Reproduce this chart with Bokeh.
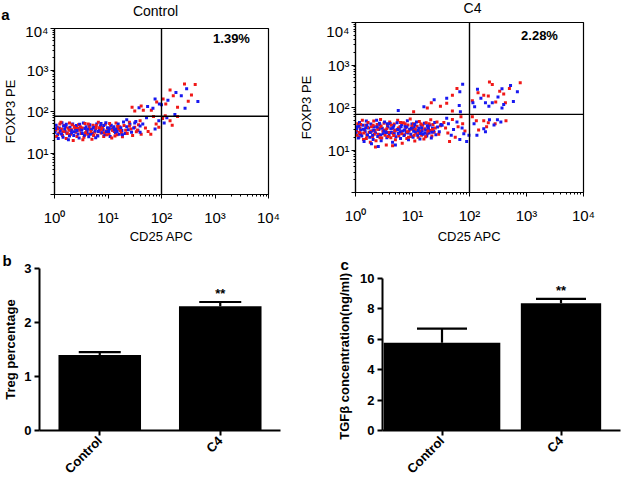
from math import pi
from bokeh.plotting import figure
from bokeh.layouts import column, row
from bokeh.models import (ColumnDataSource, FixedTicker, Span, Label, Whisker,
                          TeeHead, FactorRange, Range1d, Title)
from bokeh.core.properties import value
from bokeh.embed import file_html
from bokeh.resources import INLINE

FONT = "Liberation Sans"
RED = "#f01818"
BLUE = "#1818f0"

# ---------------- data ----------------
decade_ticks = [1, 10, 100, 1000, 10000]
x_decade_labels = ["10⁰", "10¹", "10²", "10³", "10⁴"]
y_decade_labels = ["", "10¹", "10²", "10³", "10⁴"]
minor_mantissas = [2, 3, 4, 5, 6, 7, 8, 9]

ctrl_title = "Control"
ctrl_gate_x = 100
ctrl_gate_y = 77
ctrl_pct = "1.39%"

c4_title = "C4"
c4_gate_x = 100
c4_gate_y = 69
c4_pct = "2.28%"

# events, as (log10 CD25 APC, log10 FOXP3 PE)
ctrl_red = [
    (0.02, 1.55), (0.05, 1.62), (0.08, 1.48), (0.10, 1.70), (0.13, 1.58), (0.15, 1.42), (0.18, 1.66),
    (0.20, 1.52), (0.22, 1.35), (0.25, 1.60), (0.28, 1.72), (0.30, 1.45), (0.32, 1.56), (0.35, 1.30),
    (0.37, 1.64), (0.40, 1.50), (0.42, 1.40), (0.45, 1.68), (0.47, 1.55), (0.50, 1.47), (0.52, 1.60),
    (0.55, 1.38), (0.57, 1.71), (0.60, 1.53), (0.62, 1.45), (0.65, 1.63), (0.67, 1.57), (0.70, 1.33),
    (0.72, 1.67), (0.75, 1.50), (0.77, 1.59), (0.80, 1.43), (0.82, 1.74), (0.85, 1.55), (0.87, 1.48),
    (0.90, 1.62), (0.92, 1.40), (0.95, 1.69), (0.97, 1.53), (1.00, 1.58), (1.02, 1.46), (1.05, 1.65),
    (1.07, 1.36), (1.10, 1.60), (1.12, 1.52), (1.15, 1.72), (1.17, 1.44), (1.20, 1.57), (1.22, 1.63),
    (1.25, 1.49), (1.27, 1.39), (1.30, 1.66), (1.33, 1.55), (1.36, 1.47), (1.40, 1.74), (1.43, 1.58),
    (1.46, 1.42), (1.50, 1.62), (1.53, 1.51), (1.57, 1.68), (1.62, 1.45), (0.04, 1.40), (0.12, 1.74),
    (0.24, 1.47), (0.33, 1.68), (0.43, 1.59), (0.53, 1.32), (0.63, 1.70), (0.73, 1.42), (0.83, 1.61),
    (0.93, 1.49), (1.03, 1.71), (1.13, 1.41), (1.23, 1.54), (0.06, 1.58), (0.16, 1.51), (0.27, 1.55),
    (0.38, 1.61), (0.48, 1.63), (0.58, 1.49), (0.68, 1.52), (0.78, 1.66), (0.88, 1.57), (0.98, 1.44),
    (1.08, 1.55), (1.18, 1.64),
    (1.70, 1.60), (1.75, 1.52), (1.80, 1.45), (1.90, 1.70), (1.60, 1.78), (1.55, 1.55), (1.85, 1.88),
    (1.40, 1.65), (1.95, 1.62),
    (1.50, 2.01), (1.66, 2.03), (1.81, 2.03), (1.91, 2.23), (1.62, 2.13), (1.45, 2.10),
    (2.07, 1.90), (2.16, 1.78), (2.20, 1.67), (2.02, 1.83), (2.30, 1.88),
    (2.16, 2.52), (2.43, 2.66), (2.63, 2.65), (2.22, 2.38), (2.56, 2.40), (2.50, 2.25), (2.08, 2.18),
    (2.30, 2.10), (2.03, 2.30),
]
ctrl_blue = [
    (0.01, 1.50), (0.03, 1.67), (0.06, 1.44), (0.09, 1.60), (0.11, 1.53), (0.14, 1.73), (0.16, 1.38),
    (0.19, 1.57), (0.21, 1.64), (0.23, 1.48), (0.26, 1.32), (0.29, 1.62), (0.31, 1.54), (0.34, 1.70),
    (0.36, 1.42), (0.39, 1.58), (0.41, 1.66), (0.44, 1.46), (0.46, 1.36), (0.49, 1.61), (0.51, 1.55),
    (0.54, 1.72), (0.56, 1.43), (0.59, 1.63), (0.61, 1.50), (0.64, 1.39), (0.66, 1.68), (0.69, 1.56),
    (0.71, 1.47), (0.74, 1.62), (0.76, 1.53), (0.79, 1.70), (0.81, 1.41), (0.84, 1.59), (0.86, 1.65),
    (0.89, 1.49), (0.91, 1.56), (0.94, 1.44), (0.96, 1.73), (0.99, 1.61), (1.01, 1.52), (1.04, 1.40),
    (1.06, 1.67), (1.09, 1.55), (1.11, 1.63), (1.14, 1.48), (1.16, 1.58), (1.19, 1.70), (1.21, 1.45),
    (1.24, 1.61), (1.26, 1.54), (1.29, 1.75), (1.32, 1.47), (1.35, 1.63), (1.38, 1.56), (1.41, 1.69),
    (1.44, 1.50), (1.48, 1.60), (1.52, 1.76), (1.56, 1.55), (1.60, 1.65), (0.07, 1.35), (0.17, 1.65),
    (0.28, 1.41), (0.37, 1.51), (0.47, 1.69), (0.57, 1.59), (0.67, 1.45), (0.77, 1.37), (0.87, 1.71),
    (0.97, 1.51), (1.07, 1.58), (1.17, 1.52), (1.27, 1.44), (0.02, 1.59), (0.13, 1.46), (0.22, 1.69),
    (0.32, 1.49), (0.42, 1.54), (0.52, 1.47), (0.62, 1.57), (0.72, 1.60), (0.82, 1.52), (0.92, 1.66),
    (1.02, 1.59), (1.12, 1.56),
    (1.65, 1.70), (1.72, 1.85), (1.50, 1.72), (1.88, 1.58), (1.35, 1.80), (1.95, 1.78), (1.60, 1.50),
    (1.58, 2.09), (1.88, 2.30), (1.74, 2.12), (1.96, 2.18), (1.84, 2.08),
    (2.10, 1.85), (2.25, 1.93), (2.05, 1.72),
    (2.27, 2.46), (2.47, 2.55), (2.37, 2.38), (2.68, 2.24), (2.44, 2.08), (2.12, 2.27), (2.00, 2.16),
]

c4_red = [
    (0.02, 1.45), (0.04, 1.62), (0.06, 1.30), (0.08, 1.52), (0.10, 1.38), (0.12, 1.70), (0.14, 1.25),
    (0.16, 1.48), (0.18, 1.58), (0.20, 1.34), (0.22, 1.65), (0.24, 1.42), (0.26, 1.18), (0.28, 1.55),
    (0.30, 1.31), (0.32, 1.68), (0.34, 1.46), (0.36, 1.22), (0.38, 1.60), (0.40, 1.37), (0.42, 1.51),
    (0.44, 1.72), (0.46, 1.28), (0.48, 1.44), (0.50, 1.63), (0.52, 1.35), (0.54, 1.12), (0.56, 1.57),
    (0.58, 1.41), (0.60, 1.66), (0.62, 1.29), (0.64, 1.50), (0.66, 1.39), (0.68, 1.61), (0.70, 1.24),
    (0.72, 1.47), (0.74, 1.70), (0.76, 1.33), (0.78, 1.55), (0.80, 1.43), (0.82, 1.16), (0.84, 1.64),
    (0.86, 1.36), (0.88, 1.52), (0.90, 1.27), (0.92, 1.59), (0.94, 1.45), (0.96, 1.73), (0.98, 1.32),
    (1.00, 1.49), (1.02, 1.62), (1.04, 1.21), (1.06, 1.40), (1.08, 1.56), (1.10, 1.30), (1.12, 1.67),
    (1.14, 1.44), (1.16, 1.35), (1.18, 1.58), (1.20, 1.26), (1.22, 1.50), (1.24, 1.64), (1.26, 1.38),
    (1.28, 1.54), (1.30, 1.46), (1.32, 1.71), (1.34, 1.33), (1.36, 1.60), (1.38, 1.42), (1.40, 1.52),
    (1.43, 1.66), (1.46, 1.37), (1.49, 1.57), (0.03, 1.35), (0.09, 1.60), (0.15, 1.40), (0.21, 1.53),
    (0.27, 1.44), (0.33, 1.37), (0.39, 1.49), (0.45, 1.56), (0.51, 1.47), (0.57, 1.32), (0.63, 1.58),
    (0.69, 1.45), (0.75, 1.52), (0.81, 1.38), (0.87, 1.62), (0.93, 1.30), (0.99, 1.56), (1.05, 1.48),
    (1.11, 1.40), (1.17, 1.50), (1.23, 1.31), (1.29, 1.62), (1.35, 1.48), (0.07, 1.41), (0.19, 1.27),
    (0.31, 1.58), (0.43, 1.29), (0.55, 1.50), (0.67, 1.34), (0.79, 1.65), (0.91, 1.43), (1.03, 1.35),
    (1.15, 1.61), (1.27, 1.45), (0.35, 1.07), (0.65, 1.10),
    (1.55, 1.65), (1.62, 1.40), (1.70, 1.72), (1.75, 1.30), (1.80, 1.55), (1.88, 1.62), (1.92, 1.45),
    (1.65, 1.20), (1.85, 1.78), (1.58, 1.52),
    (1.70, 2.29), (1.33, 2.11), (1.49, 2.03), (1.70, 1.92), (1.26, 1.99), (1.02, 1.90), (1.78, 2.45),
    (1.60, 2.10),
    (2.12, 1.69), (2.25, 1.69), (2.33, 1.64), (2.45, 1.62), (2.64, 1.69), (2.16, 1.47), (2.30, 1.55),
    (2.05, 1.78),
    (2.89, 2.58), (2.40, 2.54), (2.53, 2.38), (2.60, 2.32), (2.25, 2.29), (2.33, 2.27), (2.05, 2.16),
    (2.46, 2.13), (2.63, 2.11), (2.35, 2.60), (2.70, 2.45), (2.15, 2.35),
]
c4_blue = [
    (0.01, 1.40), (0.03, 1.55), (0.05, 1.28), (0.07, 1.65), (0.09, 1.47), (0.11, 1.33), (0.13, 1.58),
    (0.15, 1.20), (0.17, 1.43), (0.19, 1.68), (0.21, 1.36), (0.23, 1.52), (0.25, 1.30), (0.27, 1.61),
    (0.29, 1.45), (0.31, 1.25), (0.33, 1.55), (0.35, 1.40), (0.37, 1.70), (0.39, 1.32), (0.41, 1.48),
    (0.43, 1.59), (0.45, 1.22), (0.47, 1.51), (0.49, 1.38), (0.51, 1.66), (0.53, 1.44), (0.55, 1.29),
    (0.57, 1.54), (0.59, 1.35), (0.61, 1.62), (0.63, 1.41), (0.65, 1.18), (0.67, 1.57), (0.69, 1.46),
    (0.71, 1.31), (0.73, 1.64), (0.75, 1.39), (0.77, 1.50), (0.79, 1.27), (0.81, 1.60), (0.83, 1.45),
    (0.85, 1.34), (0.87, 1.56), (0.89, 1.42), (0.91, 1.69), (0.93, 1.24), (0.95, 1.49), (0.97, 1.37),
    (0.99, 1.61), (1.01, 1.30), (1.03, 1.53), (1.05, 1.43), (1.07, 1.66), (1.09, 1.35), (1.11, 1.51),
    (1.13, 1.26), (1.15, 1.58), (1.17, 1.44), (1.19, 1.37), (1.21, 1.63), (1.23, 1.47), (1.25, 1.33),
    (1.27, 1.55), (1.29, 1.40), (1.31, 1.59), (1.33, 1.28), (1.35, 1.52), (1.37, 1.45), (1.39, 1.65),
    (1.41, 1.36), (1.44, 1.54), (1.47, 1.43), (1.50, 1.60), (0.02, 1.50), (0.08, 1.37), (0.14, 1.49),
    (0.20, 1.58), (0.26, 1.41), (0.32, 1.47), (0.38, 1.54), (0.44, 1.36), (0.50, 1.45), (0.56, 1.62),
    (0.62, 1.50), (0.68, 1.38), (0.74, 1.48), (0.80, 1.55), (0.86, 1.47), (0.92, 1.40), (0.98, 1.51),
    (1.04, 1.60), (1.10, 1.46), (1.16, 1.52), (1.22, 1.40), (1.28, 1.49), (1.34, 1.42), (0.06, 1.56),
    (0.18, 1.52), (0.30, 1.35), (0.42, 1.63), (0.54, 1.41), (0.66, 1.53), (0.78, 1.43), (0.90, 1.54),
    (1.02, 1.44), (1.14, 1.39), (1.26, 1.57), (0.40, 1.08), (0.70, 1.12), (0.28, 1.15),
    (1.52, 1.58), (1.60, 1.75), (1.68, 1.35), (1.72, 1.48), (1.78, 1.66), (1.83, 1.25), (1.90, 1.38),
    (1.95, 1.20), (1.63, 1.62), (1.87, 1.52),
    (1.83, 2.37), (1.38, 2.18), (1.60, 2.22), (1.82, 2.05), (1.84, 1.90), (1.20, 2.02), (1.88, 2.55),
    (0.75, 1.93),
    (2.08, 1.62), (2.35, 1.71), (2.49, 1.71), (2.43, 1.59), (2.25, 1.50), (2.28, 1.43), (2.13, 1.35),
    (2.55, 1.66), (1.99, 1.35),
    (2.72, 2.52), (2.57, 2.44), (2.84, 2.37), (2.77, 2.14), (2.14, 2.43), (2.06, 2.11), (2.28, 2.11),
    (2.40, 2.11), (2.57, 1.99), (2.60, 2.07), (2.34, 2.03), (2.20, 2.22), (2.50, 2.25), (2.09, 2.02),
]

groups = ["Control", "C4"]
treg_mean = [1.40, 2.30]
treg_err = [0.05, 0.08]
tgf_mean = [5.78, 8.37]
tgf_err = [0.92, 0.29]
stars = ["", "**"]
treg_ticks = [0, 1, 2, 3]
tgf_ticks = [0, 2, 4, 6, 8, 10]
panel_letters = ["a", "b", "c"]

minor_ticks = [m * d for d in decade_ticks[:-1] for m in minor_mantissas]


def header(width, height, items):
    """A strip of free text above a row of panels (panel letter and titles)."""
    p = figure(width=width, height=height, x_range=Range1d(0, 1), y_range=Range1d(0, 1),
               output_backend="svg", toolbar_location=None, title=None,
               x_axis_location=None, y_axis_location=None,
               min_border_left=0, min_border_right=0, min_border_top=0, min_border_bottom=0)
    p.frame_align = False
    p.outline_line_color = None
    p.background_fill_color = "white"
    p.border_fill_color = "white"
    p.xgrid.visible = False
    p.ygrid.visible = False
    for text, x, y, size, style in items:
        p.add_layout(Label(x=x, y=y, x_units="screen", y_units="screen", text=text,
                           text_font=FONT, text_font_size=size, text_font_style=style,
                           text_align="center", text_baseline="middle",
                           text_color="black"))
    return p


def flow_panel(red, blue, gate_x, gate_y, pct, width, height, mb, pct_pos,
               y_label_standoff=4, x_label_standoff=0):
    xs, ys, cs = [], [], []
    for i in range(max(len(red), len(blue))):
        if i < len(red):
            xs.append(10 ** red[i][0]); ys.append(10 ** red[i][1]); cs.append(RED)
        if i < len(blue):
            xs.append(10 ** blue[i][0]); ys.append(10 ** blue[i][1]); cs.append(BLUE)
    src = ColumnDataSource(dict(x=xs, y=ys, c=cs))
    p = figure(width=width, height=height, x_axis_type="log", y_axis_type="log",
               x_range=Range1d(1, 10000), y_range=Range1d(1, 10000),
               output_backend="svg", toolbar_location=None, title=None,
               min_border_left=mb[0], min_border_right=mb[1],
               min_border_top=mb[2], min_border_bottom=mb[3])
    p.frame_align = False
    p.background_fill_color = "white"
    p.border_fill_color = "white"
    p.outline_line_color = "black"
    p.outline_line_width = 1.2
    p.xgrid.visible = False
    p.ygrid.visible = False
    p.scatter(x="x", y="y", fill_color="c", line_color=None, marker="square",
              size=3, source=src)
    p.add_layout(Span(location=gate_x, dimension="height", line_color="black", line_width=1.4))
    p.add_layout(Span(location=gate_y, dimension="width", line_color="black", line_width=1.4))
    for ax, labels in ((p.xaxis[0], x_decade_labels), (p.yaxis[0], y_decade_labels)):
        ax.ticker = FixedTicker(ticks=decade_ticks, minor_ticks=minor_ticks)
        ax.major_label_overrides = dict(zip(decade_ticks, labels))
        ax.axis_line_color = "black"
        ax.axis_line_width = 1.2
        ax.major_tick_line_color = "black"
        ax.minor_tick_line_color = "black"
        ax.major_tick_out = 4
        ax.major_tick_in = 0
        ax.minor_tick_out = 2
        ax.minor_tick_in = 0
        ax.major_label_text_font = FONT
        ax.major_label_text_font_size = "15px"
        ax.major_label_text_color = "black"
        ax.axis_label_text_font = FONT
        ax.axis_label_text_font_size = "13px"
        ax.axis_label_text_font_style = "normal"
        ax.axis_label_text_color = "black"
    p.xaxis.axis_label = "CD25 APC"
    p.yaxis.axis_label = "FOXP3 PE"
    p.xaxis.major_label_standoff = 10
    p.yaxis.major_label_standoff = 2
    p.xaxis.axis_label_standoff = x_label_standoff
    p.yaxis.axis_label_standoff = y_label_standoff
    p.add_layout(Label(x=pct_pos[0], y=pct_pos[1], x_units="screen", y_units="screen",
                       text=pct, text_font=FONT, text_font_size="13px", text_font_style="bold",
                       text_align="center", text_baseline="middle", text_color="black"))
    return p


def bar_panel(means, errs, widths, ticks, ylabel, width, height, mb, head_size,
              y_label_standoff, letter, letter_offset, letter_standoff):
    src = ColumnDataSource(dict(g=groups, m=means, hi=[m + e for m, e in zip(means, errs)],
                                w=widths, s=stars))
    p = figure(width=width, height=height, x_range=FactorRange(factors=groups, range_padding=0),
               y_range=Range1d(0, ticks[-1]), output_backend="svg", toolbar_location=None,
               title=None, min_border_left=mb[0], min_border_right=mb[1],
               min_border_top=mb[2], min_border_bottom=mb[3])
    p.frame_align = False
    p.background_fill_color = "white"
    p.border_fill_color = "white"
    p.outline_line_color = None
    p.xgrid.visible = False
    p.ygrid.visible = False
    p.vbar(x="g", top="m", width="w", source=src, fill_color="black", line_color=None)
    p.add_layout(Whisker(source=src, base="g", lower="m", upper="hi", line_color="black",
                         line_width=2.2,
                         upper_head=TeeHead(size=head_size, line_width=2.2, line_color="black"),
                         lower_head=None))
    p.text(x="g", y="hi", text="s", source=src, text_font=value(FONT),
           text_font_style="bold", text_font_size="13px", text_align="center",
           text_baseline="bottom", y_offset=-1, text_color="black")
    for ax in (p.xaxis[0], p.yaxis[0]):
        ax.axis_line_color = "black"
        ax.axis_line_width = 2
        ax.major_tick_line_color = "black"
        ax.major_tick_line_width = 2
        ax.major_tick_out = 5
        ax.major_tick_in = 0
        ax.minor_tick_line_color = None
        ax.major_label_text_font = FONT
        ax.major_label_text_font_size = "13px"
        ax.major_label_text_font_style = "bold"
        ax.major_label_text_color = "black"
        ax.axis_label_text_font = FONT
        ax.axis_label_text_font_size = "13px"
        ax.axis_label_text_font_style = "bold"
        ax.axis_label_text_color = "black"
    p.yaxis.ticker = FixedTicker(ticks=ticks)
    p.yaxis.axis_label = ylabel
    p.yaxis.major_label_standoff = 3
    p.yaxis.axis_label_standoff = y_label_standoff
    p.xaxis.major_label_orientation = pi / 4
    p.xaxis.major_label_standoff = 3
    p.add_layout(Title(text=letter, align="left", offset=letter_offset, vertical_align="bottom",
                       standoff=letter_standoff, text_font=FONT, text_font_size="15px",
                       text_font_style="bold", text_color="black"), "above")
    return p


TOTAL_W = 621

top_header = header(TOTAL_W, 22, [
    (panel_letters[0], 5, 8, "15px", "bold"),
    (ctrl_title, 155, 12, "14px", "normal"),
    (c4_title, 472, 15, "14px", "normal"),
])
pa1 = flow_panel(ctrl_red, ctrl_blue, ctrl_gate_x, ctrl_gate_y, ctrl_pct,
                 292, 224, (48, 24, 6, 47), (177, 156), y_label_standoff=4, x_label_standoff=0)
pa2 = flow_panel(c4_red, c4_blue, c4_gate_x, c4_gate_y, c4_pct,
                 329, 224, (63, 38, 0, 51), (184, 157), y_label_standoff=9, x_label_standoff=2)

pb = bar_panel(treg_mean, treg_err, [0.685, 0.685], treg_ticks, "Treg percentage",
               310, 238, (36, 30, 22, 49), 42, 3, panel_letters[1], -37, 0)
pc = bar_panel(tgf_mean, tgf_err, [0.98, 0.675], tgf_ticks, "TGFβ  concentration(ng/ml)",
               311, 238, (72, 1, 32, 45), 50, 5, panel_letters[2], -42, 12)

layout = column(top_header, row(pa1, pa2), row(pb, pc))
open("out.html", "w").write(file_html(layout, INLINE))
